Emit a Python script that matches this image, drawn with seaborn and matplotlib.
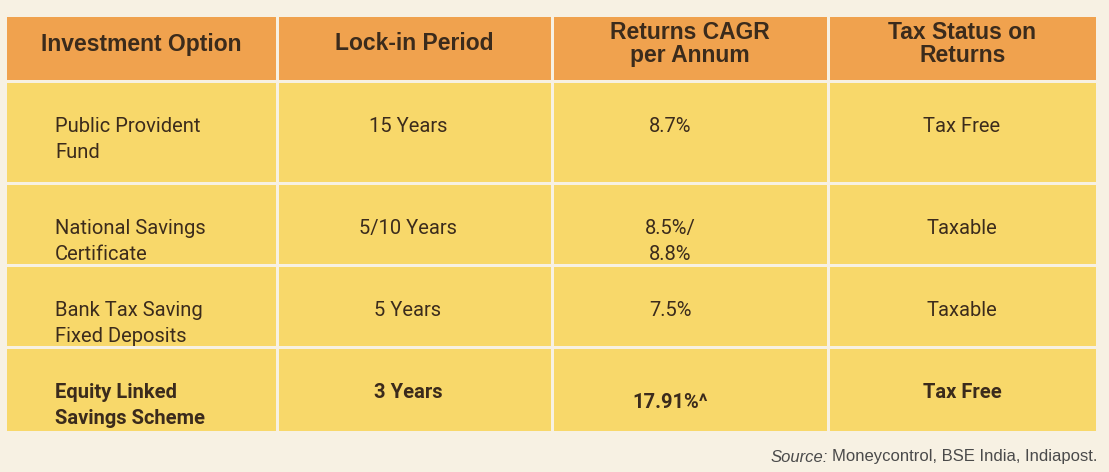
import matplotlib
matplotlib.use("Agg")
import matplotlib.pyplot as plt
from matplotlib.patches import Rectangle
import seaborn as sns

sns.set_theme(style="white")

headers = ["Investment Option", "Lock-in Period", "Returns CAGR\nper Annum", "Tax Status on\nReturns"]
options = ["Public Provident\nFund", "National Savings\nCertificate", "Bank Tax Saving\nFixed Deposits", "Equity Linked\nSavings Scheme"]
lockin = ["15 Years", "5/10 Years", "5 Years", "3 Years"]
returns = ["8.7%", "8.5%/\n8.8%", "7.5%", "17.91%^"]
tax = ["Tax Free", "Taxable", "Taxable", "Tax Free"]
source = "Moneycontrol, BSE India, Indiapost."

W, H = 1109, 472
fig = plt.figure(figsize=(W / 100, H / 100), dpi=100)
fig.patch.set_facecolor("#F7F1E3")
ax = fig.add_axes([0, 0, 1, 1])
ax.set_xlim(0, W)
ax.set_ylim(H, 0)
ax.axis("off")

col_edges = [5, 277, 552, 828, 1097]
row_edges = [15, 81, 183, 265, 347, 432]
gap = 1.5
txt = "#3b2b1c"
body_font = "Roboto"

for r in range(5):
    for c in range(4):
        x0, x1 = col_edges[c], col_edges[c + 1]
        y0, y1 = row_edges[r], row_edges[r + 1]
        ax.add_patch(Rectangle((x0 + gap, y0 + gap), x1 - x0 - 2 * gap, y1 - y0 - 2 * gap,
                               facecolor="#F0A24E" if r == 0 else "#F8D86A", edgecolor="none"))

for c, h in enumerate(headers):
    xc = (col_edges[c] + col_edges[c + 1]) / 2
    ax.text(xc, 44, h, ha="center", va="center", fontsize=16.5, fontweight="bold",
            color=txt, family="Liberation Sans", linespacing=1.0)

for r in range(4):
    y = row_edges[r + 1] + 36
    bold = "bold" if r == 3 else "normal"
    fs = 14.5
    ax.text(55, y, options[r], ha="left", va="top", fontsize=fs, fontweight=bold,
            color=txt, family=body_font, linespacing=1.5)
    ax.text(408, y, lockin[r], ha="center", va="top", fontsize=fs, fontweight=bold,
            color=txt, family=body_font)
    ry = y + (10 if r == 3 else 0)
    ax.text(670, ry, returns[r], ha="center", va="top", fontsize=fs, fontweight=bold,
            color=txt, family=body_font, linespacing=1.5)
    ax.text(962, y, tax[r], ha="center", va="top", fontsize=fs, fontweight=bold,
            color=txt, family=body_font)

t = ax.text(1097, 457, source, ha="right", va="center", fontsize=12, color="#4a4a4a",
            family="Liberation Sans")
fig.canvas.draw()
bb = t.get_window_extent(fig.canvas.get_renderer())
ax.text(bb.x0 - 4, 457, "Source:", ha="right", va="center", fontsize=12, color="#4a4a4a",
        family="Liberation Sans", style="italic")

fig.savefig("out.png", dpi=100, facecolor=fig.get_facecolor())
